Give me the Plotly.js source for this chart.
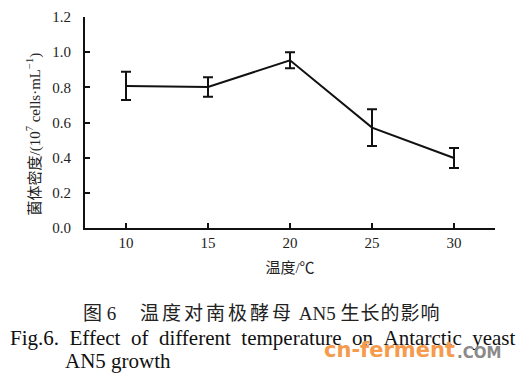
<!DOCTYPE html>
<html><head><meta charset="utf-8">
<script src="https://cdn.plot.ly/plotly-3.0.1.min.js"></script>
<style>html,body{margin:0;padding:0;background:#fff}#c{width:526px;height:375px}</style>
</head><body><div id="c"></div>
<script>
var temperature = [10, 15, 20, 25, 30];
var density = [0.808, 0.802, 0.954, 0.571, 0.398];
var errorSD = [0.080, 0.056, 0.046, 0.104, 0.057];
var xTickVals = [7.5, 10, 15, 20, 25, 30, 32.5];
var xTickText = ['', '10', '15', '20', '25', '30', ''];
var yTickVals = [0, 0.2, 0.4, 0.6, 0.8, 1.0, 1.2];
var yTickText = ['0.0', '0.2', '0.4', '0.6', '0.8', '1.0', '1.2'];

var serif = '"Liberation Serif", "Noto Sans CJK SC", serif';
var NB = '\u00a0';
function sp(n){return NB.repeat(n);}
function ls(t, px){return '<span style="letter-spacing:' + px + 'px">' + t + '</span>';}

var trace = {
  x: temperature, y: density, type: 'scatter', mode: 'lines',
  line: {color: '#111', width: 2},
  error_y: {type: 'data', array: errorSD, visible: true, color: '#111', thickness: 2, width: 5},
  showlegend: false, hoverinfo: 'none'
};

var caption = '图' + sp(1) + '6' + sp(5) + ls('温度对南极酵母', 3) + sp(1) + 'AN5' + sp(1) + ls('生长的影响', 1);
var english = ['Fig.6.', 'Effect', 'of', 'different', 'temperature', 'on', 'Antarctic', 'yeast'].join(sp(2));

var layout = {
  width: 526, height: 375,
  margin: {l: 85, r: 31, t: 17, b: 147},
  paper_bgcolor: '#fff', plot_bgcolor: '#fff',
  font: {family: serif, color: '#222', size: 15},
  xaxis: {
    range: [7.5, 32.5], tickvals: xTickVals, ticktext: xTickText,
    ticks: 'inside', ticklen: 5, tickwidth: 2, tickcolor: '#111',
    showline: true, linecolor: '#111', linewidth: 2, showgrid: false, zeroline: false,
    tickfont: {family: serif, size: 15, color: '#222'},
    title: {text: '温度/℃', font: {family: serif, size: 15, color: '#222'}, standoff: 12}
  },
  yaxis: {
    range: [0, 1.2], tickvals: yTickVals, ticktext: yTickText,
    ticks: 'inside', ticklen: 5, tickwidth: 2, tickcolor: '#111',
    ticklabelstandoff: 9,
    showline: true, linecolor: '#111', linewidth: 2, showgrid: false, zeroline: false,
    tickfont: {family: serif, size: 15, color: '#222'}
  },
  annotations: [
    {xref: 'paper', yref: 'paper', x: 0, xshift: -51, y: (228 - 134.5) / 211, xanchor: 'center', yanchor: 'middle',
     textangle: -90, showarrow: false,
     text: '菌体密度/(10<sup>7</sup> cells·mL<sup>−1</sup>)', font: {family: serif, size: 15, color: '#222'}},
    {xref: 'paper', yref: 'paper', x: (261.5 - 85) / 410, y: 0, yshift: -85, xanchor: 'center', yanchor: 'middle', showarrow: false,
     text: caption, font: {family: serif, size: 19, color: '#222'}},
    {xref: 'paper', yref: 'paper', x: (8 - 85) / 410, y: 0, yshift: -110, xanchor: 'left', yanchor: 'middle', showarrow: false,
     text: english, font: {family: serif, size: 21, color: '#111'}},
    {xref: 'paper', yref: 'paper', x: (63 - 85) / 410, y: 0, yshift: -133, xanchor: 'left', yanchor: 'middle', showarrow: false,
     text: 'AN5 growth', font: {family: serif, size: 21, color: '#111'}},
    {xref: 'paper', yref: 'paper', x: (457 - 85) / 410, y: 0, yshift: -122, xanchor: 'right', yanchor: 'middle', showarrow: false,
     text: '<b>cn-ferment</b>', font: {family: '"DejaVu Sans", sans-serif', size: 21, color: '#f69a4c'}},
    {xref: 'paper', yref: 'paper', x: (455 - 85) / 410, y: 0, yshift: -125, xanchor: 'left', yanchor: 'middle', showarrow: false,
     text: '<b>.COM</b>', font: {family: '"DejaVu Sans", sans-serif', size: 15, color: '#8a8a8a'}}
  ]
};
Plotly.newPlot('c', [trace], layout, {staticPlot: true, displayModeBar: false});
</script></body></html>
